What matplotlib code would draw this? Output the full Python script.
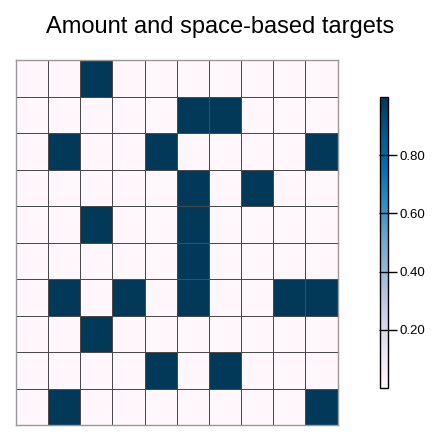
import numpy as np
import matplotlib
matplotlib.use("Agg")
import matplotlib.pyplot as plt
from matplotlib.ticker import FormatStrFormatter

plt.rcParams['font.family'] = ['Liberation Sans', 'DejaVu Sans']

# 10x10 binary target grid, top row first
targets = [
    [0, 0, 1, 0, 0, 0, 0, 0, 0, 0],
    [0, 0, 0, 0, 0, 1, 1, 0, 0, 0],
    [0, 1, 0, 0, 1, 0, 0, 0, 0, 1],
    [0, 0, 0, 0, 0, 1, 0, 1, 0, 0],
    [0, 0, 1, 0, 0, 1, 0, 0, 0, 0],
    [0, 0, 0, 0, 0, 1, 0, 0, 0, 0],
    [0, 1, 0, 1, 0, 1, 0, 0, 1, 1],
    [0, 0, 1, 0, 0, 0, 0, 0, 0, 0],
    [0, 0, 0, 0, 1, 0, 1, 0, 0, 0],
    [0, 1, 0, 0, 0, 0, 0, 0, 0, 1],
]
cbar_ticks = [0.2, 0.4, 0.6, 0.8]
title = "Amount and space-based targets"

data = np.array(targets, dtype=float)
n_rows, n_cols = data.shape

fig = plt.figure(figsize=(4.41, 4.41), dpi=100)
ax = fig.add_axes([16 / 441, 1 - 425 / 441, (337.5 - 16) / 441, (425 - 60) / 441])
mesh = ax.pcolormesh(data[::-1], cmap="PuBu", vmin=0, vmax=1,
                     edgecolors="#4a4a4a", linewidth=0.7)
ax.set_xlim(0, n_cols)
ax.set_ylim(0, n_rows)
ax.set_xticks([])
ax.set_yticks([])
for s in ax.spines.values():
    s.set_color("#999999")
    s.set_linewidth(1.0)

fig.text(0.5, 1 - 27 / 441, title, ha="center", va="center", fontsize=17)

cax = fig.add_axes([379.5 / 441, 1 - 388 / 441, 8.5 / 441, (388 - 97) / 441])
cb = fig.colorbar(mesh, cax=cax, ticks=cbar_ticks)
cb.ax.yaxis.set_major_formatter(FormatStrFormatter("%.2f"))
cb.ax.tick_params(direction="inout", length=12.5, width=1, labelsize=9.5, pad=2)
cb.outline.set_linewidth(1)

fig.savefig("out.png", dpi=100)
